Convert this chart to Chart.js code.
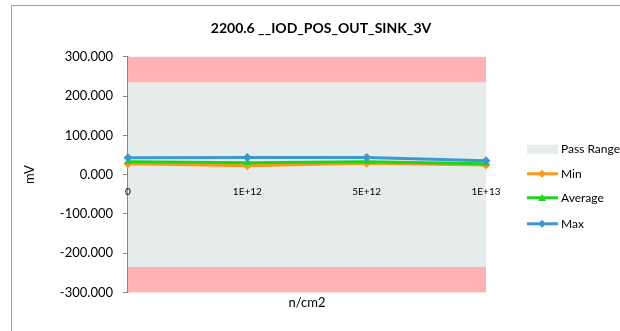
<!DOCTYPE html>
<html>
<head>
<meta charset="utf-8">
<script src="https://cdn.jsdelivr.net/npm/chart.js@4"></script>
<style>
  html, body { margin: 0; padding: 0; background: #fff; overflow: hidden; }
  #box { position: absolute; left: 11px; top: 5px; width: 640px; height: 340px; border: 1px solid #a0a0a0; }
  canvas { display: block; }
</style>
</head>
<body>
<div id="box"><canvas id="chart" width="640" height="340"></canvas></div>
<script>
const TITLE = '2200.6 __IOD_POS_OUT_SINK_3V';
const FLUENCE = ['0', '1E+12', '5E+12', '1E+13'];
const MIN_MV = [27.7, 22.6, 28.7, 24.4];
const AVG_MV = [32.8, 30.0, 33.0, 27.7];
const MAX_MV = [42.6, 43.6, 43.6, 35.0];
const PASS_HIGH = [235, 235, 235, 235];
const PASS_LOW = -235;
const Y_MIN = -300;
const Y_MAX = 300;
const Y_STEP = 100;

const FONT = 'Lato, "Open Sans", sans-serif';

// pink "fail" zone behind everything
const failZone = {
  id: 'failZone',
  beforeDatasetsDraw(chart) {
    const { ctx, chartArea: a } = chart;
    ctx.save();
    ctx.fillStyle = '#FFB3B3';
    ctx.fillRect(a.left, a.top, a.right - a.left, a.bottom - a.top);
    ctx.restore();
  },
};

function marker(ctx, style, x, y, r, color) {
  ctx.fillStyle = color;
  ctx.beginPath();
  if (style === 'triangle') {
    ctx.moveTo(x, y - r);
    ctx.lineTo(x + r, y + r * 0.8);
    ctx.lineTo(x - r, y + r * 0.8);
  } else {
    ctx.moveTo(x, y - r);
    ctx.lineTo(x + r, y);
    ctx.lineTo(x, y + r);
    ctx.lineTo(x - r, y);
  }
  ctx.closePath();
  ctx.fill();
}

// Excel-style legend on the right
const sideLegend = {
  id: 'sideLegend',
  afterDraw(chart) {
    const { ctx, chartArea: a } = chart;
    const x0 = a.right + 41;
    const rows = [a.top + 92, a.top + 117, a.top + 141, a.top + 167];
    ctx.save();
    ctx.font = '12px ' + FONT;
    ctx.textBaseline = 'middle';
    chart.data.datasets.forEach((ds, i) => {
      const y = rows[i];
      if (ds.fill) {
        ctx.fillStyle = ds.backgroundColor;
        ctx.fillRect(x0, y - 4, 31, 9);
      } else {
        ctx.strokeStyle = ds.borderColor;
        ctx.lineWidth = 3;
        ctx.beginPath();
        ctx.moveTo(x0, y);
        ctx.lineTo(x0 + 31, y);
        ctx.stroke();
        marker(ctx, ds.pointStyle, x0 + 15, y, 4, ds.borderColor);
      }
      ctx.fillStyle = '#000';
      ctx.fillText(ds.label, x0 + 34, y);
    });
    ctx.restore();
  },
};

const series = (label, data, color, pointStyle, order) => ({
  label,
  data,
  borderColor: color,
  backgroundColor: color,
  borderWidth: 3,
  pointStyle,
  pointRadius: 4.5,
  pointBorderWidth: 0,
  tension: 0,
  fill: false,
  order,
});

new Chart(document.getElementById('chart'), {
  type: 'line',
  data: {
    labels: FLUENCE,
    datasets: [
      {
        label: 'Pass Range',
        data: PASS_HIGH,
        borderWidth: 0,
        pointRadius: 0,
        backgroundColor: '#E6EBEB',
        fill: { value: PASS_LOW },
        order: 4,
      },
      series('Min', MIN_MV, '#F7991C', 'rectRot', 3),
      series('Average', AVG_MV, '#1ED51E', 'triangle', 2),
      series('Max', MAX_MV, '#3C98D2', 'rectRot', 1),
    ],
  },
  options: {
    responsive: false,
    animation: false,
    layout: { padding: { left: 4, right: 26, top: 0, bottom: 35 } },
    plugins: {
      legend: { display: false },
      tooltip: { enabled: false },
      title: {
        display: true,
        text: TITLE,
        color: '#000',
        font: { family: FONT, size: 14, weight: 'bold' },
        padding: { top: 14, bottom: 20 },
      },
    },
    scales: {
      x: {
        type: 'category',
        position: { y: 0 },
        offset: false,
        grid: { display: false, drawTicks: false },
        border: { display: false },
        ticks: { z: 1, color: '#000', font: { family: FONT, size: 10 }, padding: 11, maxRotation: 0, autoSkip: false },
      },
      x2: {
        type: 'category',
        position: 'bottom',
        offset: false,
        grid: { display: false, drawTicks: false },
        border: { display: false },
        ticks: { display: false },
        title: { display: true, text: 'n/cm2', color: '#000', font: { family: FONT, size: 13 }, padding: { top: 3, bottom: 0 } },
      },
      y: {
        min: Y_MIN,
        max: Y_MAX,
        afterFit(scale) { scale.width = 112; },
        grid: { drawOnChartArea: false, drawTicks: true, tickLength: 5, color: '#868686' },
        border: { display: true, color: '#868686', width: 1.5 },
        ticks: {
          stepSize: Y_STEP,
          color: '#000',
          padding: 10,
          font: { family: FONT, size: 13 },
          callback: (v) => v.toFixed(3),
        },
        title: { display: true, text: 'mV', color: '#000', font: { family: FONT, size: 13 }, padding: { top: 6, bottom: 0 } },
      },
      // empty axis that reserves the legend column on the right
      legendSpace: {
        type: 'linear',
        position: 'right',
        afterFit(scale) { scale.width = 140; },
        grid: { display: false, drawTicks: false },
        border: { display: false },
        ticks: { display: false },
      },
    },
  },
  plugins: [failZone, sideLegend],
});
</script>
</body>
</html>
